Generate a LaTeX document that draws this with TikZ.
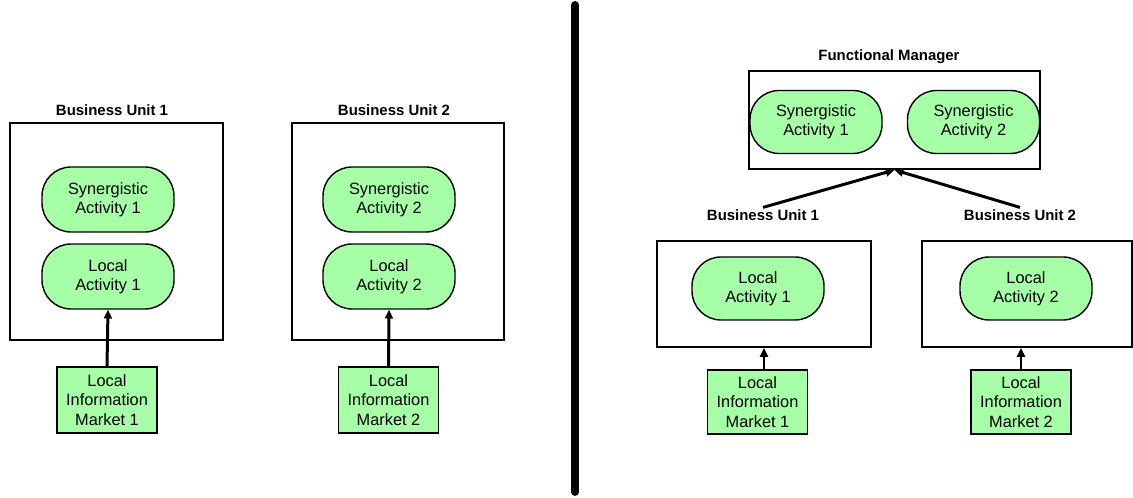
\documentclass[tikz,border=0pt]{standalone}
\usepackage{fontspec}
\setmainfont{Liberation Sans}
\definecolor{PaleGreen}{RGB}{166,255,166}
\usepackage{tikz}
\usetikzlibrary{arrows.meta, positioning}

\begin{document}
\begin{tikzpicture}[
        unit/.style={draw,line width=1.1pt,inner sep=0pt},
        act/.style={draw,fill=PaleGreen,line width=0.8pt,rounded corners=0.58cm,
                    minimum width=2.64cm,minimum height=1.3cm,align=center,
                    font=\fontsize{9.3}{11}\selectfont},
        mkt/.style={draw,fill=PaleGreen,line width=1pt,minimum width=2cm,
                    minimum height=1.32cm,inner sep=1pt,align=center,
                    font=\fontsize{9.3}{11}\selectfont},
        ttl/.style={font=\fontsize{8.5}{10}\selectfont\bfseries,inner sep=1pt},
        arr/.style={line width=1.7pt,-{Triangle[length=5pt,width=4.5pt]}}]
  \useasboundingbox (0,0) rectangle (22.66,9.96);

  % separate business units
  \node[unit,minimum width=4.26cm,minimum height=4.34cm] (buA1) at (2.33,5.33) {};
  \node[unit,minimum width=4.24cm,minimum height=4.34cm] (buA2) at (7.96,5.33) {};
  \node[ttl] (tA1) at (2.24,7.76) {Business Unit 1};
  \node[ttl] (tA2) at (7.88,7.76) {Business Unit 2};
  \node[act] (synA1) at (2.16,5.97) {Synergistic\\Activity 1};
  \node[act] (locA1) at (2.16,4.43) {Local\\Activity 1};
  \node[act] (synA2) at (7.78,5.97) {Synergistic\\Activity 2};
  \node[act] (locA2) at (7.78,4.43) {Local\\Activity 2};
  \node[mkt] (limA1) at (2.14,1.96) {Local\\Information\\Market 1};
  \node[mkt] (limA2) at (7.77,1.96) {Local\\Information\\Market 2};
  \draw[arr] (limA1.north) -- (locA1.south);
  \draw[arr] (limA2.north) -- (locA2.south);

  % divider
  \coordinate (divtop) at (11.5,9.86);
  \coordinate (divbot) at (11.5,0.12);
  \draw[line width=4.5pt,line cap=round] (divtop) -- (divbot);

  % functional manager
  \node[unit,minimum width=5.82cm,minimum height=1.96cm] (fm) at (17.89,7.56) {};
  \node[ttl] (tfm) at (17.78,8.82) {Functional Manager};
  \node[act,minimum height=1.26cm] (synB1) at (16.32,7.52) {Synergistic\\Activity 1};
  \node[act,minimum height=1.26cm] (synB2) at (19.47,7.52) {Synergistic\\Activity 2};
  \node[ttl] (tB1) at (15.26,5.66) {Business Unit 1};
  \node[ttl] (tB2) at (20.40,5.66) {Business Unit 2};
  \draw[arr] (tB1.north) -- (fm.south);
  \draw[arr] (tB2.north) -- (fm.south);

  \node[unit,minimum width=4.28cm,minimum height=2.12cm] (buB1) at (15.28,4.08) {};
  \node[unit,minimum width=4.2cm,minimum height=2.12cm] (buB2) at (20.54,4.08) {};
  \node[act,minimum height=1.26cm] (locB1) at (15.16,4.19) {Local\\Activity 1};
  \node[act,minimum height=1.26cm] (locB2) at (20.52,4.19) {Local\\Activity 2};
  \node[mkt,minimum height=1.28cm] (limB1) at (15.15,1.92) {Local\\Information\\Market 1};
  \node[mkt,minimum height=1.28cm] (limB2) at (20.42,1.92) {Local\\Information\\Market 2};
  \draw[arr,line width=1.3pt] (buB1.south |- limB1.north) -- (buB1.south);
  \draw[arr,line width=1.3pt] (limB2.north) -- (limB2.north |- buB2.south);
\end{tikzpicture}
\end{document}
